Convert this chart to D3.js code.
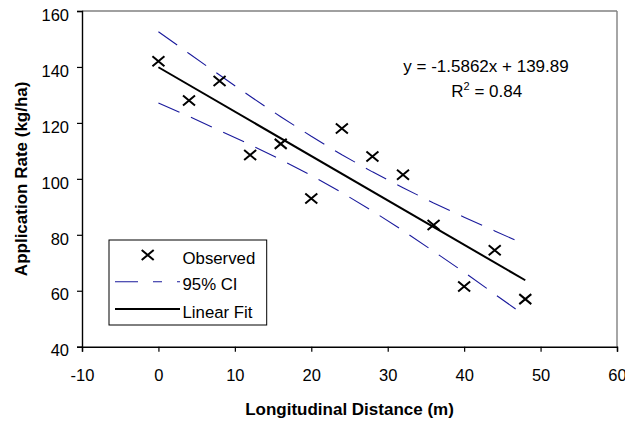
<!DOCTYPE html>
<html>
<head>
<meta charset="utf-8">
<script src="https://cdn.jsdelivr.net/npm/d3@7"></script>
<style>
  html, body { margin: 0; padding: 0; background: #fff; }
  svg { display: block; }
  text { font-family: "Liberation Sans", Arial, sans-serif; fill: #000; }
</style>
</head>
<body>
<svg id="chart" width="625" height="422"></svg>
<script>
// ---- data ----
const xTicks = [-10, 0, 10, 20, 30, 40, 50, 60];
const yTicks = [40, 60, 80, 100, 120, 140, 160];
const distance = [0, 4, 8, 12, 16, 20, 24, 28, 32, 36, 40, 44, 48];
const observed = [142, 128, 135, 108.5, 112.5, 93, 118, 108, 101.5, 83.5, 61.5, 74.5, 57];
const ciUpper = [152.6, 144.8, 137.1, 129.5, 122.2, 115.2, 108.6, 102.5, 96.8, 91.4, 86.3, 81.4, 76.5];
const ciLower = [127.1, 122.3, 117.3, 112.2, 106.9, 101.2, 95.1, 88.5, 81.5, 74.1, 66.6, 58.8, 51.0];
const fitX = [0, 48];
const fitY = [139.89, 63.75];
const legendLabels = ["Observed", "95% CI", "Linear Fit"];
const equationText = "y = -1.5862x + 139.89";
const r2Value = "0.84";
const xTitle = "Longitudinal Distance (m)";
const yTitle = "Application Rate (kg/ha)";

// ---- layout ----
const svg = d3.select("#chart");
const L = 82, R = 617, T = 11, B = 346.7;
const x = d3.scaleLinear().domain([-10, 60]).range([L, R]);
const y = d3.scaleLinear().domain([40, 160]).range([B, T]);
const blue = "#1a1a9c";
const fmt = d => String(d);

// top & right gray border
svg.append("line").attr("x1", L).attr("x2", R).attr("y1", T).attr("y2", T)
  .attr("stroke", "#808080").attr("stroke-width", 1.4);
svg.append("line").attr("x1", R).attr("x2", R).attr("y1", T).attr("y2", B)
  .attr("stroke", "#808080").attr("stroke-width", 1.4);

// axes
const yAxis = svg.append("g").attr("transform", `translate(${L},0)`)
  .call(d3.axisLeft(y).tickValues(yTicks).tickSize(5).tickPadding(8).tickFormat(fmt));
const xAxis = svg.append("g").attr("transform", `translate(0,${B})`)
  .call(d3.axisBottom(x).tickValues(xTicks).tickSize(5).tickPadding(10).tickFormat(fmt));
[yAxis, xAxis].forEach(g => {
  g.select(".domain").attr("stroke", "#000").attr("stroke-width", 1.4);
  g.selectAll(".tick line").attr("stroke", "#000").attr("stroke-width", 1.2);
  g.selectAll(".tick text").attr("font-size", "16.5px").attr("fill", "#000")
    .attr("font-family", '"Liberation Sans", Arial, sans-serif');
});
yAxis.selectAll(".tick text").attr("dy", "0.68em").attr("y", -2);
xAxis.selectAll(".tick text").attr("dy", "0.71em").attr("y", 23);

// CI lines
const line = d3.line().x(d => x(d[0])).y(d => y(d[1]));
[ciUpper, ciLower].forEach(arr => {
  svg.append("path").datum(distance.map((d, i) => [d, arr[i]]))
    .attr("d", line).attr("fill", "none").attr("stroke", blue)
    .attr("stroke-width", 1.1).attr("stroke-dasharray", "23,12.5");
});

// linear fit
svg.append("path").datum(fitX.map((d, i) => [d, fitY[i]]))
  .attr("d", line).attr("fill", "none").attr("stroke", "#000").attr("stroke-width", 2);

// markers
function cross(g, cx, cy) {
  g.append("path")
    .attr("d", `M${cx - 6},${cy - 5}L${cx + 6},${cy + 5}M${cx - 6},${cy + 5}L${cx + 6},${cy - 5}`)
    .attr("stroke", "#000").attr("stroke-width", 2).attr("fill", "none");
}
const mk = svg.append("g");
distance.forEach((d, i) => cross(mk, x(d), y(observed[i])));

// equation
svg.append("text").attr("x", 486).attr("y", 71.7).attr("text-anchor", "middle")
  .attr("font-size", "17px").text(equationText);
const r2 = svg.append("text").attr("x", 486.7).attr("y", 96.7).attr("text-anchor", "middle")
  .attr("font-size", "17px");
r2.append("tspan").text("R");
r2.append("tspan").attr("dy", -7).attr("font-size", "11px").text("2");
r2.append("tspan").attr("dy", 7).text(" = " + r2Value);

// legend
const lg = svg.append("g");
lg.append("rect").attr("x", 109).attr("y", 240).attr("width", 157.7).attr("height", 85)
  .attr("fill", "#fff").attr("stroke", "#000").attr("stroke-width", 1);
const rowY = [255, 281.7, 309];
cross(lg, 147.7, rowY[0]);
lg.append("line").attr("x1", 115).attr("x2", 180).attr("y1", rowY[1]).attr("y2", rowY[1])
  .attr("stroke", blue).attr("stroke-width", 1.1).attr("stroke-dasharray", "23,15,9,15,3");
lg.append("line").attr("x1", 115).attr("x2", 180).attr("y1", rowY[2]).attr("y2", rowY[2])
  .attr("stroke", "#000").attr("stroke-width", 2);
legendLabels.forEach((t, i) => {
  lg.append("text").attr("x", 182.5).attr("y", rowY[i] + 8.5)
    .attr("font-size", "16.8px").text(t);
});

// axis titles
svg.append("text").attr("x", (L + R) / 2).attr("y", 415).attr("text-anchor", "middle")
  .attr("font-size", "17px").attr("font-weight", "bold").text(xTitle);
svg.append("text").attr("transform", `translate(27,${(T + B) / 2}) rotate(-90)`)
  .attr("text-anchor", "middle").attr("font-size", "17px").attr("font-weight", "bold").text(yTitle);
</script>
</body>
</html>
